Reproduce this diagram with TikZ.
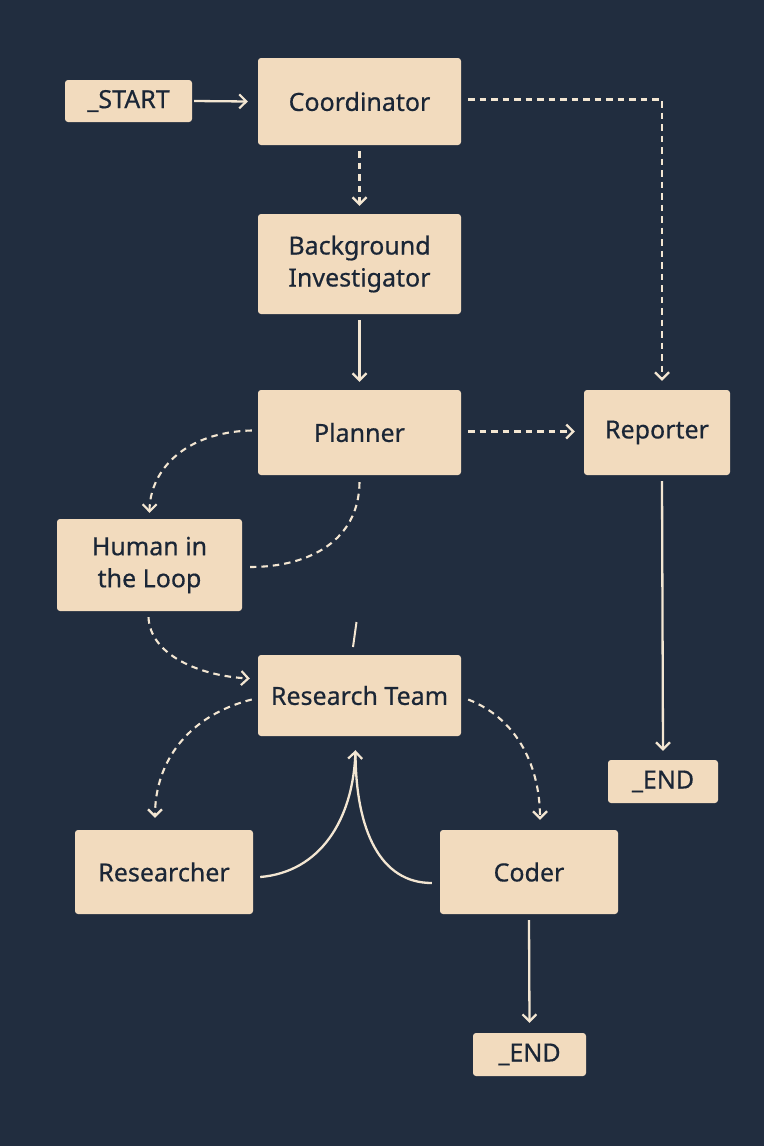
\documentclass[tikz,border=0pt]{standalone}
\usepackage{fontspec}
\setmainfont{Noto Sans}[FakeBold=0.5]
\usetikzlibrary{arrows.meta,calc}
\definecolor{bgcol}{HTML}{212D3F}
\definecolor{boxcol}{HTML}{F2DBBE}
\definecolor{inkcol}{HTML}{1B2636}
\definecolor{linecol}{HTML}{F3E6D2}
\tikzset{
  box/.style={fill=boxcol, rounded corners=3pt, inner sep=0pt, align=center,
    text=inkcol, font=\fontsize{25}{32}\selectfont},
  tip/.style={-{Straight Barb[length=7pt,width=14pt,line width=2.2pt]}},
  solidline/.style={draw=linecol, line width=2.3pt},
  dashline/.style={draw=linecol, line width=2.1pt, dash pattern=on 6.5pt off 5pt},
}
\begin{document}
\begin{tikzpicture}[x=1pt,y=-1pt]
\fill[bgcol] (0,0) rectangle (764,1146);
\useasboundingbox (0,0) rectangle (764,1146);

% nodes
\node[box, minimum width=127pt, minimum height=42pt] (start) at (128.5,101) {\_START};
\node[box, minimum width=203pt, minimum height=87pt] (coord) at (359.5,101.5) {Coordinator};
\node[box, minimum width=203pt, minimum height=100pt] (bg) at (359.5,264) {Background\\Investigator};
\node[box, minimum width=203pt, minimum height=85pt] (plan) at (359.5,432.5) {Planner};
\node[box, minimum width=146pt, minimum height=85pt] (rep) at (657,432.5) {Reporter};
\node[box, minimum width=185pt, minimum height=92pt] (human) at (149.5,565) {Human in\\the Loop};
\node[box, minimum width=203pt, minimum height=81pt] (team) at (359.5,695.5) {Research Team};
\node[box, minimum width=178pt, minimum height=84pt] (res) at (164,872) {Researcher};
\node[box, minimum width=178pt, minimum height=84pt] (coder) at (529,872) {Coder};
\node[box, minimum width=110pt, minimum height=43pt] (endA) at (663,781.5) {\_END};
\node[box, minimum width=113pt, minimum height=43pt] (endB) at (529.5,1054.5) {\_END};

% straight connectors
\draw[solidline, tip] ($(start.east)+(2,0)$) -- ($(coord.west)+(-10,0)$);
\draw[dashline, tip] ($(coord.south)+(0,6)$) -- ($(bg.north)+(0,-8)$);
\draw[dashline, tip] ($(coord.east)+(7,-2)$) -| ($(rep.north)+(5,-9)$);
\draw[solidline, tip] ($(bg.south)+(0,6)$) -- ($(plan.north)+(0,-8)$);
\draw[dashline, tip] ($(plan.east)+(7,-1)$) -- ($(rep.west)+(-9,-1)$);
\draw[solidline, tip] ($(rep.south)+(5,6)$) -- ($(endA.north)+(0,-9)$);
\draw[solidline, tip] ($(coder.south)+(0,6)$) -- ($(endB.north)+(0,-10)$);

% curved dashed connectors
\draw[dashline, tip] ($(plan.west)+(-6,-2)$) .. controls (185,432) and (150,470) .. ($(human.north)+(0,-6)$);
\draw[dashline] ($(plan.south)+(0,7)$) .. controls (359,540) and (310,567) .. ($(human.east)+(8,2)$);
\draw[dashline, tip] ($(human.south)+(-1,6)$) .. controls (150,655) and (200,676) .. ($(team.west)+(-8,-17)$);
\draw[dashline, tip] ($(team.west)+(-6,4)$) .. controls (190,715) and (155,760) .. ($(res.north)+(-9,-12)$);
\draw[dashline, tip] ($(team.east)+(7,4)$) .. controls (520,720) and (540,770) .. ($(coder.north)+(11,-10)$);

% results flowing back to the team
\draw[solidline, tip] ($(res.east)+(7,5)$) .. controls (320,872) and (353,820) .. ($(team.south)+(-4,14)$);
\draw[solidline] ($(coder.west)+(-8,11)$) .. controls (380,883) and (356,830) .. ($(team.south)+(-4,18)$);

% short stroke above the team box
\coordinate (tickA) at (356.5,622);
\coordinate (tickB) at (353,647);
\draw[solidline, line width=2pt] (tickA) -- (tickB);
\end{tikzpicture}
\end{document}
